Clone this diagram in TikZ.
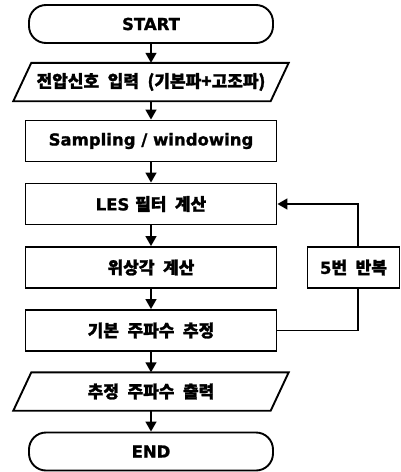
\documentclass[tikz,border=0pt]{standalone}
\usepackage{fontspec}
\setmainfont{DejaVu Sans}[BoldFeatures={FakeBold=1.2}]
\newfontfamily\kr{Noto Sans CJK KR}[WordSpace=2.2, BoldFeatures={FakeBold=1.5}]
\newcommand\krt{\kr\fontsize{17}{20}\selectfont}
\usetikzlibrary{arrows.meta,calc}
\begin{document}
\begin{tikzpicture}[x=1pt,y=1pt,
  txt/.style={font=\bfseries\fontsize{16.5}{20}\selectfont, inner sep=0pt},
  box/.style={txt, draw, line width=1.9pt, minimum width=251pt, minimum height=41pt},
  term/.style={txt, draw, line width=1.9pt, rounded corners=17pt, minimum width=244pt, minimum height=38pt},
  io/.style={txt, minimum width=257pt, minimum height=38pt},
  iobox/.style={line width=1.9pt},
  arr/.style={line width=1.6pt, -{Triangle[width=11pt,length=10pt]}},
  ln/.style={line width=1.6pt}]
\useasboundingbox (0,0) rectangle (401,-472);
\node[term] (start) at (151,-24) {START};
\node[io] (in) at (151,-82) {\krt 전압신호 입력 (기본파+고조파)};
\draw[iobox] ($(in.south west)+(-9,0)$) -- ($(in.north west)+(9,0)$) -- ($(in.north east)+(9,0)$) -- ($(in.south east)+(-9,0)$) -- cycle;
\node[box] (samp) at (151,-141) {Sampling / windowing};
\node[box] (les) at (151,-204) {LES {\krt 필터 계산}};
\node[box] (phase) at (151,-267.5) {\krt 위상각 계산};
\node[box] (est) at (151,-330.5) {\krt 기본 주파수 추정};
\node[io] (out) at (151,-391.5) {\krt 추정 주파수 출력};
\draw[iobox] ($(out.south west)+(-9,0)$) -- ($(out.north west)+(9,0)$) -- ($(out.north east)+(9,0)$) -- ($(out.south east)+(-9,0)$) -- cycle;
\node[term] (end) at (151,-451.5) {END};
\node[txt, draw, line width=1.9pt, minimum width=92pt, minimum height=41pt] (loop) at (353.5,-267.5) {5{\krt 번 반복}};
\coordinate (lx) at (358,0);
\draw[arr] (start) -- (in);
\draw[arr] (in) -- (samp);
\draw[arr] (samp) -- (les);
\draw[arr] (les) -- (phase);
\draw[arr] (phase) -- (est);
\draw[arr] (est) -- (out);
\draw[arr] (out) -- (end);
\draw[arr] (loop.north -| lx) |- (les.east);
\draw[ln] (loop.south -| lx) |- (est.east);
\end{tikzpicture}
\end{document}
